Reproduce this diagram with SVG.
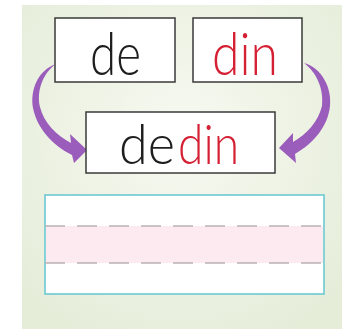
<svg xmlns="http://www.w3.org/2000/svg" width="344" height="329" viewBox="0 0 344 329">
<style>
.box{fill:#fff;stroke:#3a3a3a;stroke-width:1.5}
.word{font-family:Lato,"Open Sans",sans-serif;font-weight:300}
.blk{fill:#1e1e1e}
.red{fill:#d51f33}
.arrow{fill:#9b5dbb}
.dash{stroke:#b9b1b3;stroke-width:1.6;stroke-dasharray:20 12;fill:none}
</style>
<defs>
<radialGradient id="bg" cx="0.5" cy="0.4" r="0.7">
<stop offset="0" stop-color="#f7f9f1"/>
<stop offset="1" stop-color="#e5edd9"/>
</radialGradient>
</defs>
<rect x="0" y="0" width="344" height="329" fill="#fff"/>
<rect x="22" y="5" width="320" height="324" fill="url(#bg)"/>
<g id="connectors">
<path class="arrow" d="M56,64 C38,70 30,90 33,108 C37,128 52,145 72,155 L74,163 L87,150 L70,134 L71,143 C56,135 44,123 40,107 C36,90 44,72 56,64 Z"/>
<path class="arrow" d="M304,63 C322,68 332,88 330,106 C328,126 314,143 295,154 L296,163 L279,148 L293,133 L293,142 C307,134 318,122 322,106 C324,88 316,72 304,63 Z"/>
</g>
<g id="node-de">
<rect class="box" x="55" y="18" width="120" height="64"/>
<text class="word blk" x="90" y="75" font-size="60" textLength="51" lengthAdjust="spacingAndGlyphs">de</text>
</g>
<g id="node-din">
<rect class="box" x="193" y="18" width="109" height="64"/>
<text class="word red" x="212" y="75" font-size="60" textLength="66" lengthAdjust="spacingAndGlyphs">din</text>
</g>
<g id="node-dedin">
<rect class="box" x="86" y="112" width="189" height="61"/>
<text class="word blk" x="119" y="164" font-size="56" textLength="56" lengthAdjust="spacingAndGlyphs">de</text>
<text class="word red" x="178" y="164" font-size="56" textLength="61" lengthAdjust="spacingAndGlyphs">din</text>
</g>
<g id="writing-lines">
<rect x="45" y="195" width="279" height="99" fill="#fff" stroke="#6cc9d3" stroke-width="1.6"/>
<rect x="46" y="226" width="277" height="37" fill="#fde9f0"/>
<line class="dash" x1="45" y1="226" x2="323" y2="226"/>
<line class="dash" x1="45" y1="263" x2="323" y2="263"/>
</g>
</svg>
